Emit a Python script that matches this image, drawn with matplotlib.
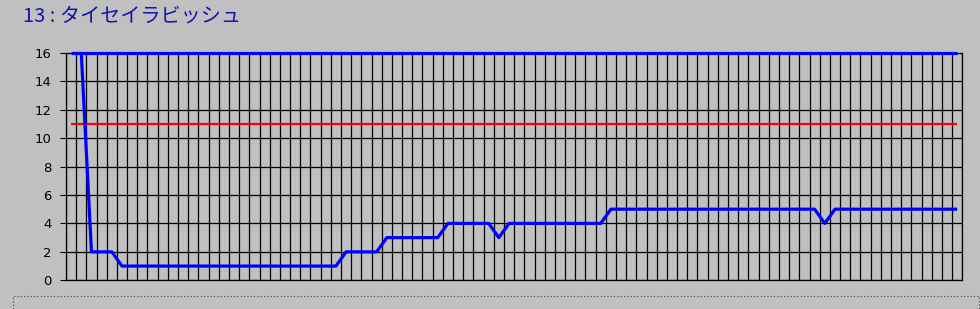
import numpy as np
import matplotlib
matplotlib.use("Agg")
import matplotlib.pyplot as plt
from matplotlib.patches import Rectangle

title = "13 : タイセイラビッシュ"
races = list(range(88))
rank = [np.nan, 16, 2, 2, 2, 1, 1, 1, 1, 1,
        1, 1, 1, 1, 1, 1, 1, 1, 1, 1,
        1, 1, 1, 1, 1, 1, 1, 2, 2, 2,
        2, 3, 3, 3, 3, 3, 3, 4, 4, 4,
        4, 4, 3, 4, 4, 4, 4, 4, 4, 4,
        4, 4, 4, 5, 5, 5, 5, 5, 5, 5,
        5, 5, 5, 5, 5, 5, 5, 5, 5, 5,
        5, 5, 5, 5, 4, 5, 5, 5, 5, 5,
        5, 5, 5, 5, 5, 5, 5, 5]
field_size = [16] * 88
threshold = [11] * 88
yticks = [0, 2, 4, 6, 8, 10, 12, 14, 16]

bg = "#c0c0c0"
W, H = 980, 309
fig = plt.figure(figsize=(W / 100, H / 100), dpi=100, facecolor=bg)
ax = fig.add_axes([66 / W, (H - 280.3) / H, (962.3 - 66) / W, (280.3 - 52.7) / H])
ax.set_facecolor(bg)

x = np.array(races)
ax.plot(x, threshold, color="#ff0000", lw=1.6, solid_capstyle="butt", zorder=3)
ax.plot(x, field_size, color="#0000ff", lw=2.3, solid_capstyle="butt", zorder=4, clip_on=False)
ax.plot(x, rank, color="#0000ff", lw=2.3, solid_capstyle="butt", zorder=5)

ax.set_xlim(-0.5, len(races) - 0.5)
ax.set_ylim(0, 16)
ax.set_yticks(yticks)
ax.set_yticklabels([str(v) for v in yticks], fontsize=9.5, family=["DejaVu Sans"])
ax.set_xticks(np.arange(len(races) + 1) - 0.5)
ax.set_xticklabels([])
ax.tick_params(axis="x", length=0)
ax.tick_params(axis="y", direction="out", length=4, width=0.8, color="black", pad=6.5)
ax.grid(True, axis="both", color="black", lw=0.9)
ax.set_axisbelow(True)
for s in ax.spines.values():
    s.set_color("black")
    s.set_linewidth(0.9)

fig.text(23 / W, 1 - 16 / H, title, color="#1515b0", fontsize=14.5, va="center", ha="left",
         family=["Noto Sans CJK JP", "DejaVu Sans"])

fig.patches.append(Rectangle((13 / W, 0), (979 - 13) / W, (H - 296) / H, transform=fig.transFigure,
                             fill=False, edgecolor="#404040", lw=0.8, linestyle=(0, (1, 2))))

fig.savefig("out.png", dpi=100, facecolor=bg)
